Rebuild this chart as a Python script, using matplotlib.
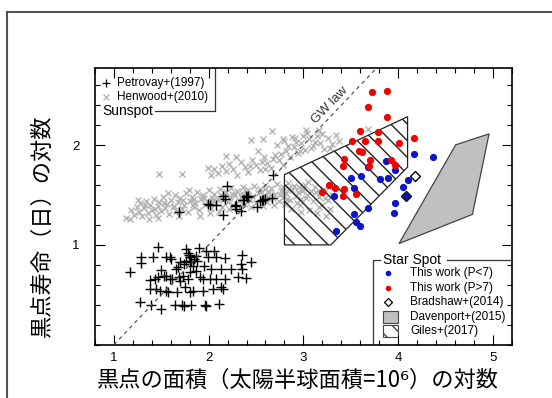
import numpy as np
import matplotlib
matplotlib.use("Agg")
import matplotlib.pyplot as plt
from matplotlib.patches import Polygon, Rectangle
from matplotlib.lines import Line2D

plt.rcParams['font.family'] = ['Liberation Sans', 'DejaVu Sans']
jp_font = ['Noto Sans CJK JP', 'DejaVu Sans']

# Petrovay+(1997) sunspots (log area, log lifetime)
petrovay_x = [1.465, 1.289, 1.289, 1.412, 1.546, 1.588, 1.606, 1.764, 1.782, 1.799, 1.817, 1.898,
              1.975, 2.053, 1.993, 2.081, 2.169, 2.356, 2.451, 2.345, 2.356, 1.166, 1.377, 1.500,
              1.525, 1.465, 1.447, 1.483, 1.553, 1.571, 1.659, 1.687, 1.694, 1.666, 1.782, 1.799,
              1.835, 1.870, 1.905, 1.940, 2.011, 2.081, 2.169, 2.239, 2.310, 2.398, 2.134, 2.151,
              2.046, 1.940, 1.835, 1.747, 1.799, 1.271, 1.395, 1.493, 1.641, 1.722, 1.740, 1.817,
              1.958, 1.975, 2.109, 1.701, 1.736, 1.842, 1.877, 1.951, 1.616, 1.553, 1.676, 1.729,
              1.863, 1.792, 1.799, 1.764, 1.588, 1.430, 1.377, 2.028, 2.134,
              2.197, 1.993, 2.011, 2.081, 2.151, 2.169, 1.687, 2.151, 2.275, 2.345, 2.398, 2.370,
              2.415, 2.567, 2.591, 2.672, 2.292, 2.539, 2.574, 2.285, 2.363, 2.405, 2.510, 2.679]
petrovay_y = [0.980, 0.874, 0.814, 0.874, 0.874, 0.874, 0.858, 0.957, 0.917, 0.874, 0.841, 0.974,
              0.941, 0.941, 0.874, 0.874, 0.868, 0.898, 0.824, 0.808, 0.758, 0.725, 0.652, 0.751,
              0.692, 0.675, 0.559, 0.542, 0.542, 0.526, 0.758, 0.675, 0.642, 0.526, 0.658, 0.725,
              0.791, 0.741, 0.675, 0.658, 0.658, 0.658, 0.658, 0.758, 0.675, 0.665, 0.575, 0.559,
              0.559, 0.542, 0.542, 0.575, 0.526, 0.426, 0.399, 0.360, 0.393, 0.399, 0.386, 0.399,
              0.393, 0.386, 0.409, 0.831, 0.808, 0.858, 0.841, 0.791, 0.658, 0.692, 0.775, 0.692,
              0.891, 0.898, 0.824, 0.841, 0.658, 0.658, 0.559, 0.758, 0.758,
              1.595, 1.415, 1.405, 1.405, 1.488, 1.462, 1.332, 1.296, 1.389, 1.339, 1.488, 1.449,
              1.495, 1.449, 1.465, 1.472, 1.356, 1.439, 1.455, 1.405, 1.455, 1.482, 1.382, 1.704]

# Henwood+(2010) sunspots
henwood_x = [1.13, 1.18, 1.21, 1.24, 1.26, 1.28, 1.30, 1.32, 1.34, 1.36, 1.38, 1.40, 1.42, 1.44,
             1.46, 1.48, 1.50, 1.52, 1.54, 1.56, 1.58, 1.60, 1.62, 1.64, 1.66, 1.68, 1.70, 1.72,
             1.74, 1.76, 1.78, 1.80, 1.82, 1.84, 1.86, 1.88, 1.90, 1.92, 1.94, 1.96, 1.98, 2.00,
             2.02, 2.04, 2.06, 2.08, 2.10, 2.12, 2.14, 2.16, 2.18, 2.20, 2.22, 2.24, 2.26, 2.28,
             2.30, 2.32, 2.34, 2.36, 2.38, 2.40, 2.42, 2.44, 2.46, 2.48, 2.50, 2.52, 2.54, 2.56,
             2.58, 2.60, 2.62, 2.64, 2.66, 2.68, 2.70, 2.72, 2.74, 2.76, 2.78, 2.80, 2.82, 2.84,
             2.86, 2.88, 2.90, 2.92, 2.94, 2.96, 2.98, 3.00, 3.02, 3.04, 3.06, 3.08, 3.10, 3.12,
             3.14, 3.16, 3.18, 3.20, 3.22, 3.24, 3.26, 3.28, 3.30,
             1.25, 1.37, 1.47, 1.57, 1.69, 1.79, 1.91, 2.01, 2.11, 2.21, 2.33, 2.45, 2.57, 2.69,
             2.81, 2.93, 1.85, 1.95, 2.05, 2.15, 2.25, 2.35, 2.55, 2.65, 2.75, 2.85, 2.95, 3.05,
             2.87, 2.97, 3.17, 3.27,
             1.33, 1.43, 1.53, 1.63, 1.73, 1.83, 1.93, 2.03, 2.13, 2.23, 2.43, 2.63, 2.83, 3.03,
             3.13, 3.23, 2.39, 2.59, 2.79, 2.99,
             2.02, 2.06, 2.10, 2.14, 2.18, 2.22, 2.26, 2.30, 2.34, 2.38, 2.42, 2.46, 2.50, 2.54,
             2.58, 2.62, 2.66, 2.70, 2.74, 2.78, 2.82, 2.86, 2.90, 2.94, 2.98, 3.02, 3.06, 3.10,
             3.14, 3.18, 3.22, 3.26, 3.30, 3.34, 3.38, 2.72, 2.80, 2.88, 2.96, 3.04, 3.12, 3.20,
             3.28, 2.44, 2.56, 2.68, 2.60, 2.76, 2.84, 2.92, 3.00, 3.08,
             1.475, 1.722, 1.993, 2.187, 2.292, 2.443, 2.575, 2.673, 2.785, 2.91, 3.03, 3.17,
             3.68, 2.52, 1.166]
henwood_y = [1.27, 1.35, 1.30, 1.38, 1.33, 1.42, 1.29, 1.37, 1.44, 1.32, 1.40, 1.35, 1.46, 1.30,
             1.39, 1.43, 1.34, 1.48, 1.37, 1.41, 1.31, 1.45, 1.38, 1.50, 1.34, 1.43, 1.47, 1.36,
             1.40, 1.52, 1.33, 1.44, 1.48, 1.38, 1.42, 1.53, 1.35, 1.46, 1.50, 1.40, 1.44, 1.55,
             1.37, 1.47, 1.51, 1.42, 1.46, 1.56, 1.38, 1.49, 1.53, 1.43, 1.47, 1.57, 1.40, 1.50,
             1.54, 1.44, 1.48, 1.58, 1.41, 1.51, 1.55, 1.45, 1.49, 1.59, 1.42, 1.52, 1.56, 1.46,
             1.50, 1.60, 1.43, 1.53, 1.57, 1.47, 1.51, 1.61, 1.44, 1.54, 1.58, 1.48, 1.52, 1.62,
             1.45, 1.55, 1.59, 1.49, 1.53, 1.40, 1.46, 1.56, 1.60, 1.50, 1.35, 1.54, 1.44, 1.58,
             1.32, 1.48, 1.52, 1.40, 1.56, 1.29, 1.45, 1.36, 1.50,
             1.45, 1.26, 1.27, 1.52, 1.29, 1.55, 1.29, 1.32, 1.33, 1.36, 1.37, 1.38, 1.39, 1.40,
             1.41, 1.42, 1.46, 1.47, 1.44, 1.45, 1.51, 1.52, 1.53, 1.49, 1.50, 1.57, 1.58, 1.63,
             1.36, 1.33, 1.38, 1.58,
             1.40, 1.36, 1.42, 1.39, 1.45, 1.40, 1.48, 1.44, 1.50, 1.48, 1.46, 1.48, 1.46, 1.47,
             1.53, 1.47, 1.53, 1.56, 1.55, 1.54,
             1.70, 1.76, 1.72, 1.79, 1.74, 1.81, 1.76, 1.70, 1.83, 1.78, 1.73, 1.85, 1.80, 1.75,
             1.88, 1.82, 1.77, 1.90, 1.85, 1.80, 1.94, 1.88, 1.98, 1.92, 2.02, 1.95, 2.06, 1.99,
             2.09, 2.02, 1.96, 2.07, 2.01, 2.10, 2.04, 2.00, 2.04, 2.08, 1.94, 2.12, 2.03, 2.11,
             1.97, 1.79, 1.83, 1.86, 1.76, 1.91, 1.99, 2.03, 2.09, 1.97,
             1.714, 1.714, 1.771, 1.893, 1.880, 2.053, 2.06, 2.145, 2.06, 2.07, 2.15, 2.15,
             2.16, 1.94, 1.256]

# This work, P<7 (blue) and P>7 (red)
short_x = [4.165, 4.37, 3.876, 3.964, 3.507, 3.612, 3.806, 3.897, 4.105, 4.052, 3.531, 3.323,
           4.08, 3.964, 3.679, 3.957, 3.531, 3.56, 3.594, 3.348, 3.683]
short_y = [1.91, 1.88, 1.837, 1.754, 1.67, 1.687, 1.664, 1.671, 1.647, 1.578, 1.572, 1.488,
           1.488, 1.422, 1.366, 1.316, 1.306, 1.233, 1.19, 1.14, 1.784]
long_x = [3.728, 3.887, 3.682, 3.883, 3.594, 3.788, 3.517, 3.655, 3.792, 4.006, 4.168, 3.587,
          3.623, 3.429, 3.70, 3.922, 3.418, 3.971, 3.693, 3.27, 3.331, 3.429, 3.196, 3.552, 3.418]
long_y = [2.534, 2.541, 2.384, 2.285, 2.145, 2.135, 2.043, 2.043, 2.043, 2.02, 2.07, 1.943,
          1.936, 1.864, 1.847, 1.854, 1.794, 1.80, 1.787, 1.605, 1.572, 1.562, 1.532, 1.512, 1.488]

# Bradshaw+(2014)
bradshaw_x = [4.175, 4.088]
bradshaw_y = [1.694, 1.488]

# Davenport+(2015) and Giles+(2017) regions
davenport_x = [4.01, 4.785, 4.96, 4.608]
davenport_y = [1.014, 1.306, 2.113, 2.003]
giles_x = [2.80, 4.10, 4.10, 3.29, 2.80]
giles_y = [1.704, 2.285, 1.78, 1.0, 1.0]

# GW law: log T = log A - 1
gw_x = np.array([1.0, 3.9])
gw_y = gw_x - 1.0

fig = plt.figure(figsize=(5.52, 3.98), dpi=100)
ax = fig.add_axes([0.1721, 0.1339, 0.7550, 0.6945])

ax.plot(henwood_x, henwood_y, 'x', color='#b4b4b4', ms=5, mew=1.0, zorder=2)
ax.plot(petrovay_x, petrovay_y, '+', color='black', ms=7.5, mew=1.0, zorder=3)
ax.plot(gw_x, gw_y, color='#555555', lw=0.9, dashes=(3, 3), zorder=3)
ax.text(3.28, 2.40, 'GW law', rotation=46, ha='center', va='center', fontsize=9.5, color='#333333')

ax.add_patch(Polygon(np.column_stack([giles_x, giles_y]), closed=True, facecolor='none',
                     edgecolor='#222222', hatch='\\\\', lw=0.9, zorder=4))
ax.add_patch(Polygon(np.column_stack([davenport_x, davenport_y]), closed=True,
                     facecolor='#c0c0c0', edgecolor='#444444', lw=0.9, zorder=4))

ax.plot(short_x, short_y, 'o', color='#0a14c8', ms=5.2, mew=0, zorder=5)
ax.plot(long_x, long_y, 'o', color='#f00000', ms=5.2, mew=0, zorder=6)
ax.plot(bradshaw_x, bradshaw_y, 'D', mfc='none', mec='black', ms=5, mew=1.0, zorder=7)

ax.set_xlim(0.8, 5.2)
ax.set_ylim(0.0, 2.77)
ax.set_xticks([1, 2, 3, 4, 5])
ax.set_xticks(np.arange(0.8, 5.21, 0.2), minor=True)
ax.set_yticks([1, 2])
ax.set_yticks(np.arange(0.0, 2.77, 0.2), minor=True)
ax.tick_params(which='both', direction='in', top=True, right=True, labelsize=9.5)
ax.tick_params(axis='x', which='major', length=7, width=0.8, pad=5)
ax.tick_params(axis='y', which='major', length=7, width=0.8, pad=11)
ax.tick_params(which='minor', length=3.5, width=0.8)
for s in ax.spines.values():
    s.set_linewidth(1.2)

ax.set_xlabel('黒点の面積（太陽半球面積=10⁶）の対数', fontsize=16, family=jp_font)
ax.set_ylabel('黒点寿命（日）の対数', fontsize=16, family=jp_font)
ax.xaxis.set_label_coords(0.487, -0.088)
ax.yaxis.set_label_coords(-0.098, 0.43)

# sunspot legend (upper left)
ax.add_line(Line2D([0.288, 0.288, 0.145], [1.0, 0.8455, 0.8455], transform=ax.transAxes,
                   color='#333333', lw=0.9))
ax.plot([0.0257], [0.948], '+', color='black', ms=6, mew=0.9, transform=ax.transAxes)
ax.plot([0.0257], [0.895], 'x', color='#b4b4b4', ms=4.5, mew=0.9, transform=ax.transAxes)
ax.text(0.0535, 0.948, 'Petrovay+(1997)', transform=ax.transAxes, va='center', fontsize=8.5)
ax.text(0.0535, 0.895, 'Henwood+(2010)', transform=ax.transAxes, va='center', fontsize=8.5)
ax.text(0.0185, 0.8455, 'Sunspot', transform=ax.transAxes, va='center', fontsize=10)

# star spot legend (lower right)
ax.add_line(Line2D([0.684, 0.667, 0.667], [0.3064, 0.3064, 0.0], transform=ax.transAxes,
                   color='#333333', lw=0.9))
ax.add_line(Line2D([0.845, 1.0], [0.3064, 0.3064], transform=ax.transAxes,
                   color='#333333', lw=0.9))
ax.text(0.691, 0.3064, 'Star Spot', transform=ax.transAxes, va='center', fontsize=10)
rows = [0.2583, 0.2062, 0.1534, 0.1013, 0.0507]
labels = ['This work (P<7)', 'This work (P>7)', 'Bradshaw+(2014)', 'Davenport+(2015)', 'Giles+(2017)']
ax.plot([0.704], [rows[0]], 'o', color='#0a14c8', ms=3, transform=ax.transAxes)
ax.plot([0.704], [rows[1]], 'o', color='#f00000', ms=3, transform=ax.transAxes)
ax.plot([0.704], [rows[2]], 'D', mfc='none', mec='black', ms=4, mew=0.9, transform=ax.transAxes)
ax.add_patch(Rectangle((0.690, rows[3] - 0.022), 0.036, 0.044, transform=ax.transAxes,
                       facecolor='#c0c0c0', edgecolor='#444444', lw=0.8))
ax.add_patch(Rectangle((0.690, rows[4] - 0.022), 0.036, 0.044, transform=ax.transAxes,
                       facecolor='none', edgecolor='#444444', hatch='\\\\', lw=0.8))
for r, lab in zip(rows, labels):
    ax.text(0.756, r, lab, transform=ax.transAxes, va='center', fontsize=8.5)

# slide frame
fig.add_artist(Line2D([0.0127, 1.0], [0.9711, 0.9711], transform=fig.transFigure,
                      color='#555555', lw=1.5))
fig.add_artist(Line2D([0.0127, 0.0127], [0.0, 0.9711], transform=fig.transFigure,
                      color='#555555', lw=1.5))

fig.savefig('out.png', dpi=100)
